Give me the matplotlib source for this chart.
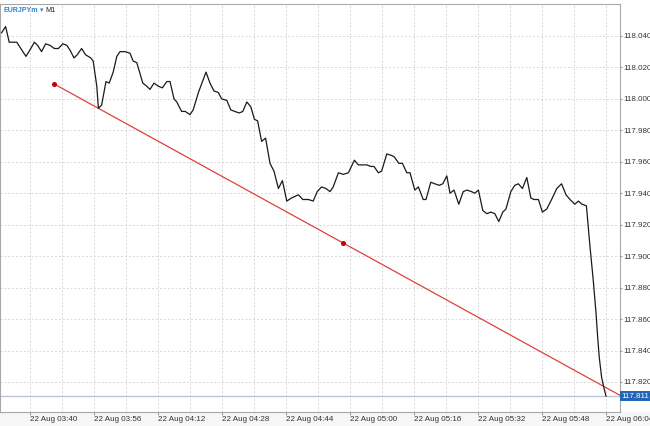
import matplotlib.pyplot as plt
from matplotlib.patches import Rectangle

# minutes after 22 Aug 03:40 and close prices (EURJPYm, M1)
minutes = [-7.1, -6.1, -5.2, -4.4, -3.3, -2.3, -1.0, 0.2, 1.1, 1.9, 2.9, 3.9, 5.0, 6.1, 7.1,
           8.2, 9.2, 10.0, 11.0, 11.8, 12.9, 13.9, 15.2, 15.8, 16.7, 17.1, 17.9, 19.0, 19.8,
           20.8, 21.7, 22.5, 23.8, 25.0, 25.8, 26.7, 27.5, 28.2, 29.2, 30.0, 31.0, 32.1, 33.1,
           34.2, 35.0, 36.0, 36.7, 37.9, 38.8, 40.0, 40.8, 42.1, 44.0, 45.0, 46.0, 47.1, 47.9,
           49.2, 50.2, 51.2, 52.3, 53.2, 54.2, 55.2, 56.1, 56.9, 57.9, 58.9, 60.0, 61.0, 62.1,
           63.1, 64.2, 65.4, 67.1, 68.2, 69.6, 70.8, 71.8, 72.9, 74.0, 75.0, 75.8, 77.1, 78.3,
           79.6, 81.1, 82.1, 83.2, 84.2, 85.2, 86.0, 87.1, 87.9, 89.2, 90.4, 91.1, 92.2, 93.1,
           94.2, 95.0, 96.2, 97.1, 98.3, 99.0, 100.2, 101.2, 102.3, 103.2, 104.2, 105.0, 106.0,
           107.2, 108.3, 109.2, 110.4, 111.2, 112.1, 113.2, 114.2, 115.2, 116.2, 117.2, 118.2,
           119.0, 120.2, 121.2, 122.1, 123.1, 124.2, 125.2, 126.0, 127.1, 128.1, 129.2, 130.4,
           131.7, 132.9, 134.0, 135.0, 136.2, 137.1, 138.0, 139.1, 140.0, 140.8, 141.5, 141.9,
           142.3, 142.9, 143.5, 144.0]
prices = [118.042, 118.046, 118.036, 118.036, 118.036, 118.032, 118.027, 118.032, 118.036,
          118.034, 118.030, 118.035, 118.034, 118.032, 118.032, 118.035, 118.034, 118.031,
          118.026, 118.028, 118.032, 118.028, 118.026, 118.024, 118.008, 117.994, 117.996,
          118.011, 118.010, 118.017, 118.027, 118.030, 118.030, 118.029, 118.024, 118.023,
          118.016, 118.010, 118.008, 118.006, 118.010, 118.008, 118.007, 118.011, 118.011,
          118.000, 117.998, 117.992, 117.992, 117.990, 117.993, 118.004, 118.017, 118.010,
          118.005, 118.004, 118.000, 117.999, 117.993, 117.992, 117.991, 117.992, 117.998,
          117.995, 117.987, 117.986, 117.973, 117.975, 117.959, 117.954, 117.943, 117.948,
          117.935, 117.937, 117.939, 117.936, 117.936, 117.935, 117.941, 117.944, 117.943,
          117.941, 117.944, 117.953, 117.952, 117.953, 117.961, 117.958, 117.958, 117.958,
          117.957, 117.957, 117.953, 117.954, 117.965, 117.964, 117.963, 117.959, 117.959,
          117.953, 117.953, 117.942, 117.944, 117.936, 117.936, 117.947, 117.946, 117.945,
          117.946, 117.951, 117.940, 117.942, 117.933, 117.941, 117.942, 117.941, 117.940,
          117.942, 117.929, 117.927, 117.928, 117.927, 117.922, 117.928, 117.930, 117.941,
          117.945, 117.946, 117.943, 117.950, 117.937, 117.936, 117.936, 117.928, 117.930,
          117.936, 117.943, 117.946, 117.939, 117.936, 117.933, 117.935, 117.933, 117.932,
          117.906, 117.885, 117.864, 117.849, 117.836, 117.823, 117.816, 117.811]

# trend line anchors (minutes, price)
trend_t = [6.0, 150.5]
trend_p = [118.0095, 117.8073]

last_price = 117.811
x_ticks = [0, 16, 32, 48, 64, 80, 96, 112, 128, 144]
x_labels = ["22 Aug 03:40", "22 Aug 03:56", "22 Aug 04:12", "22 Aug 04:28", "22 Aug 04:44",
            "22 Aug 05:00", "22 Aug 05:16", "22 Aug 05:32", "22 Aug 05:48", "22 Aug 06:04"]
y_ticks = [117.82, 117.84, 117.86, 117.88, 117.90, 117.92, 117.94, 117.96, 117.98,
           118.00, 118.02, 118.04]

plt.rcParams["font.family"] = ["Liberation Sans", "DejaVu Sans"]
FS = 5.8

W, H = 650, 426
fig = plt.figure(figsize=(W / 100, H / 100), dpi=100)
fig.patches.append(Rectangle((0, 0), 1, 14 / H, transform=fig.transFigure,
                             color="#f6f6f6", zorder=-1))
ax = fig.add_axes([0, 14 / H, 620 / W, 408 / H])
ax.set_xlim(-7.5, 147.5)
ax.set_ylim(117.8009, 118.0603)

grid_kw = dict(color="#d6d6d6", lw=0.7, ls=(0, (2, 2)), zorder=0)
for t in range(0, 148, 8):
    ax.axvline(t, **grid_kw)
for p in y_ticks:
    ax.axhline(p, **grid_kw)

ax.axhline(last_price, color="#bcc6d2", lw=1.0, zorder=1)
ax.plot(minutes, prices, color="#1a1a1a", lw=0.9, zorder=3)
ax.plot(trend_t, trend_p, color="#e0413c", lw=0.9, zorder=2)
ax.plot([trend_t[0], sum(trend_t) / 2], [trend_p[0], sum(trend_p) / 2], ls="none",
        marker="o", ms=2.6, color="#c00000", zorder=4)

ax.set_xticks(x_ticks)
ax.set_xticklabels(x_labels, ha="left", fontsize=FS, color="#333333")
ax.tick_params(axis="x", length=2, pad=1.2, color="#999999")
ax.yaxis.tick_right()
ax.set_yticks(y_ticks)
ax.set_yticklabels([f"{p:.3f}" for p in y_ticks], fontsize=FS, color="#333333")
ax.tick_params(axis="y", length=1.5, pad=0.6, color="#999999")
for s in ax.spines.values():
    s.set_color("#a8a8a8")
    s.set_linewidth(0.8)

ax.text(1.002, last_price, f"{last_price:.3f}", transform=ax.get_yaxis_transform(),
        ha="left", va="center", fontsize=FS, color="white",
        bbox=dict(boxstyle="square,pad=0.15", fc="#2366b5", ec="none"))

fig.text(3.5 / W, 1 - 10 / H, "EURJPYm", fontsize=5.0, color="#2a82d8",
         va="center", ha="left", fontweight="bold")
fig.text(40 / W, 1 - 10 / H, "\u25be", fontsize=5.0, color="#2a82d8",
         va="center", ha="left", family=["DejaVu Sans"])
fig.text(45.5 / W, 1 - 10 / H, "M1", fontsize=5.2, color="#222222", va="center", ha="left")

fig.savefig("out.png", dpi=100)
